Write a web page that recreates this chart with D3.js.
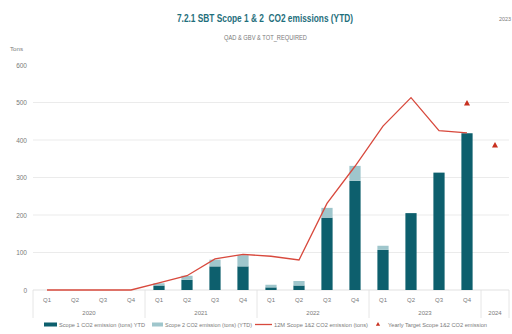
<!DOCTYPE html>
<html>
<head>
<meta charset="utf-8">
<script src="https://cdn.jsdelivr.net/npm/d3@7"></script>
<style>
  html, body { margin: 0; padding: 0; background: #ffffff; }
  svg { display: block; font-family: "Liberation Sans", Arial, sans-serif; }
</style>
</head>
<body>
<svg id="chart" width="512" height="334"></svg>
<script>
// Quarterly emissions by year; 2024 only carries a yearly target
const years = ["2020", "2021", "2022", "2023", "2024"];
const categories = [
  "2020-Q1", "2020-Q2", "2020-Q3", "2020-Q4",
  "2021-Q1", "2021-Q2", "2021-Q3", "2021-Q4",
  "2022-Q1", "2022-Q2", "2022-Q3", "2022-Q4",
  "2023-Q1", "2023-Q2", "2023-Q3", "2023-Q4",
  "2024"
];
const scope1 = [0, 0, 0, 0, 12, 27, 63, 63, 7, 12, 193, 291, 107, 205, 313, 418, 0];
const scope2 = [0, 0, 0, 0, 6, 11, 18, 30, 7, 12, 26, 40, 11, 0, 0, 0, 0];
const rolling12m = [0, 0, 0, 0, 19, 38, 83, 95, 90, 80, 231, 330, 437, 513, 425, 419];
const targetCats = ["2023-Q4", "2024"];
const targetVals = [497, 385];
const yTicks = [0, 100, 200, 300, 400, 500, 600];

const C_S1 = "#0d5f6d";
const C_S2 = "#9fc6cc";
const C_LINE = "#d8493d";
const C_TGT = "#c8301f";
const C_TEXT = "#7a7a7a";

const svg = d3.select("#chart");

const x = d3.scaleBand().domain(categories).range([33, 509]).paddingInner(0.6).paddingOuter(0.3);
const y = d3.scaleLinear().domain([0, 600]).range([290, 65]);
const cx = c => x(c) + x.bandwidth() / 2;

// Fixed-width text helper (narrow condensed look)
function label(g, xPos, yPos, str, size, width, anchor) {
  const t = g.append("text").attr("x", xPos).attr("y", yPos).attr("font-size", size).text(str);
  if (width) t.attr("textLength", width).attr("lengthAdjust", "spacingAndGlyphs");
  if (anchor) t.attr("text-anchor", anchor);
  return t;
}

// Titles
label(svg, 177, 22, "7.2.1 SBT Scope 1 & 2  CO2 emissions (YTD)", 11.5, 176)
  .attr("font-weight", "bold").attr("fill", "#1f6f7c").style("white-space", "pre");
label(svg, 224, 40, "QAD & GBV & TOT_REQUIRED", 6.8, 83).attr("fill", C_TEXT);
label(svg, 499, 21, "2023", 5.5, 12).attr("fill", C_TEXT);
label(svg, 10, 51, "Tons", 6.2, 13).attr("fill", C_TEXT);

// Gridlines
svg.append("g").selectAll("line").data(yTicks.filter(t => t > 0 && t < 600)).join("line")
  .attr("x1", 33).attr("x2", 509)
  .attr("y1", d => y(d)).attr("y2", d => y(d))
  .attr("stroke", "#e6e6e6").attr("stroke-width", 0.8);

// Y axis labels
const yAxis = d3.axisLeft(y).tickValues(yTicks).tickSize(0).tickPadding(0);
const yg = svg.append("g").attr("transform", "translate(27,0)").call(yAxis);
yg.select(".domain").remove();
yg.selectAll("text").attr("font-size", 6.5).attr("fill", C_TEXT).attr("font-family", null);

// Category axis baseline and year separators
svg.append("line").attr("x1", 33).attr("x2", 509).attr("y1", 290).attr("y2", 290)
  .attr("stroke", "#d9d9d9").attr("stroke-width", 0.8);
const yearBounds = years.map(yr => {
  const cs = categories.filter(c => c.startsWith(yr));
  const half = x.step() * x.paddingInner() / 2;
  return { yr, x0: x(cs[0]) - half, x1: x(cs[cs.length - 1]) + x.bandwidth() + half };
});
const sepXs = [yearBounds[0].x0].concat(yearBounds.map(b => b.x1));
svg.append("g").selectAll("line").data(sepXs).join("line")
  .attr("x1", d => d).attr("x2", d => d).attr("y1", 290).attr("y2", 318)
  .attr("stroke", "#e0e0e0").attr("stroke-width", 0.8);

// Quarter labels
const qCats = categories.filter(c => c.includes("-"));
svg.append("g").selectAll("text").data(qCats).join("text")
  .attr("x", d => cx(d)).attr("y", 301.5).attr("text-anchor", "middle")
  .attr("font-size", 6).attr("fill", C_TEXT).text(d => d.split("-")[1]);
// Year labels
svg.append("g").selectAll("text").data(yearBounds).join("text")
  .attr("x", d => (d.x0 + d.x1) / 2).attr("y", 315).attr("text-anchor", "middle")
  .attr("font-size", 6).attr("fill", C_TEXT).text(d => d.yr);

// Stacked bars
const stackData = categories.map((c, i) => ({ cat: c, s1: scope1[i], s2: scope2[i] }));
const bars = svg.append("g");
bars.selectAll("rect.s1").data(stackData).join("rect").attr("class", "s1")
  .attr("x", d => x(d.cat)).attr("width", x.bandwidth())
  .attr("y", d => y(d.s1)).attr("height", d => y(0) - y(d.s1))
  .attr("fill", C_S1);
bars.selectAll("rect.s2").data(stackData).join("rect").attr("class", "s2")
  .attr("x", d => x(d.cat)).attr("width", x.bandwidth())
  .attr("y", d => y(d.s1 + d.s2)).attr("height", d => y(d.s1) - y(d.s1 + d.s2))
  .attr("fill", C_S2);

// 12-month rolling line
const lineData = rolling12m.map((v, i) => ({ cat: categories[i], v }));
svg.append("path").datum(lineData)
  .attr("d", d3.line().x(d => cx(d.cat)).y(d => y(d.v)))
  .attr("fill", "none").attr("stroke", C_LINE).attr("stroke-width", 1.3);

// Yearly targets
const tri = d3.symbol().type(d3.symbolTriangle).size(16);
svg.append("g").selectAll("path").data(targetCats.map((c, i) => ({ cat: c, v: targetVals[i] }))).join("path")
  .attr("d", tri).attr("transform", d => `translate(${cx(d.cat)},${y(d.v)})`)
  .attr("fill", C_TGT);

// Legend
const lg = svg.append("g").attr("fill", C_TEXT);
lg.append("rect").attr("x", 44).attr("y", 322.5).attr("width", 13).attr("height", 4).attr("fill", C_S1);
label(lg, 59, 327, "Scope 1 CO2 emission (tons) YTD", 6, 86);
lg.append("rect").attr("x", 152).attr("y", 322.5).attr("width", 11).attr("height", 4).attr("fill", C_S2);
label(lg, 165, 327, "Scope 2 CO2 emission (tons) (YTD)", 6, 87);
lg.append("line").attr("x1", 255).attr("x2", 272).attr("y1", 324.5).attr("y2", 324.5).attr("stroke", C_LINE).attr("stroke-width", 1.3);
label(lg, 274, 327, "12M Scope 1&2 CO2 emission (tons)", 6, 94);
lg.append("path").attr("d", d3.symbol().type(d3.symbolTriangle).size(8)).attr("transform", "translate(378,324.5)").attr("fill", C_TGT);
label(lg, 388, 327, "Yearly Target Scope 1&2 CO2 emission", 6, 99);
</script>
</body>
</html>
